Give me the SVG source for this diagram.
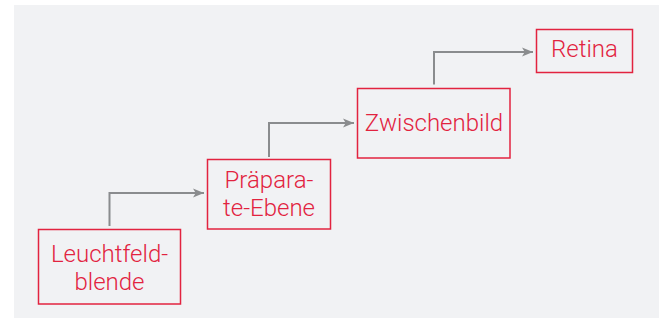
<svg xmlns="http://www.w3.org/2000/svg" width="659" height="323" viewBox="0 0 659 323">
<defs>
<style>
.box{fill:none;stroke:#e2233f;stroke-width:1.5}
.lbl{font-family:Roboto,"Liberation Sans",sans-serif;font-weight:300;font-size:24px;fill:#e2233f;text-anchor:middle}
.con{fill:none;stroke:#8a8c8e;stroke-width:2}
</style>
<marker id="ah" viewBox="0 0 10 10" refX="10" refY="5" markerWidth="11" markerHeight="11" markerUnits="userSpaceOnUse" orient="auto">
<path d="M0,1 L10,5 L0,9 L2.5,5 Z" fill="#8a8c8e"/>
</marker>
</defs>
<rect x="14" y="5" width="645" height="313" fill="#f1f2f4"/>
<g id="connectors">
<path class="con" d="M109.5,226 V193 H204" marker-end="url(#ah)"/>
<path class="con" d="M269,157 V123 H354" marker-end="url(#ah)"/>
<path class="con" d="M434,84.5 V52 H533" marker-end="url(#ah)"/>
</g>
<g id="leuchtfeldblende">
<rect class="box" x="38.5" y="229.5" width="142" height="74.5"/>
<text class="lbl" x="109.5" y="262">Leuchtfeld-</text>
<text class="lbl" x="109.5" y="289.5">blende</text>
</g>
<g id="praeparate-ebene">
<rect class="box" x="207.5" y="159.5" width="123" height="69.5"/>
<text class="lbl" x="269" y="188">Präpara-</text>
<text class="lbl" x="269" y="215.5">te-Ebene</text>
</g>
<g id="zwischenbild">
<rect class="box" x="357.5" y="88.5" width="152.5" height="69.5"/>
<text class="lbl" x="434" y="130.5">Zwischenbild</text>
</g>
<g id="retina">
<rect class="box" x="536.5" y="29.5" width="96" height="43"/>
<text class="lbl" x="584.5" y="57">Retina</text>
</g>
</svg>
